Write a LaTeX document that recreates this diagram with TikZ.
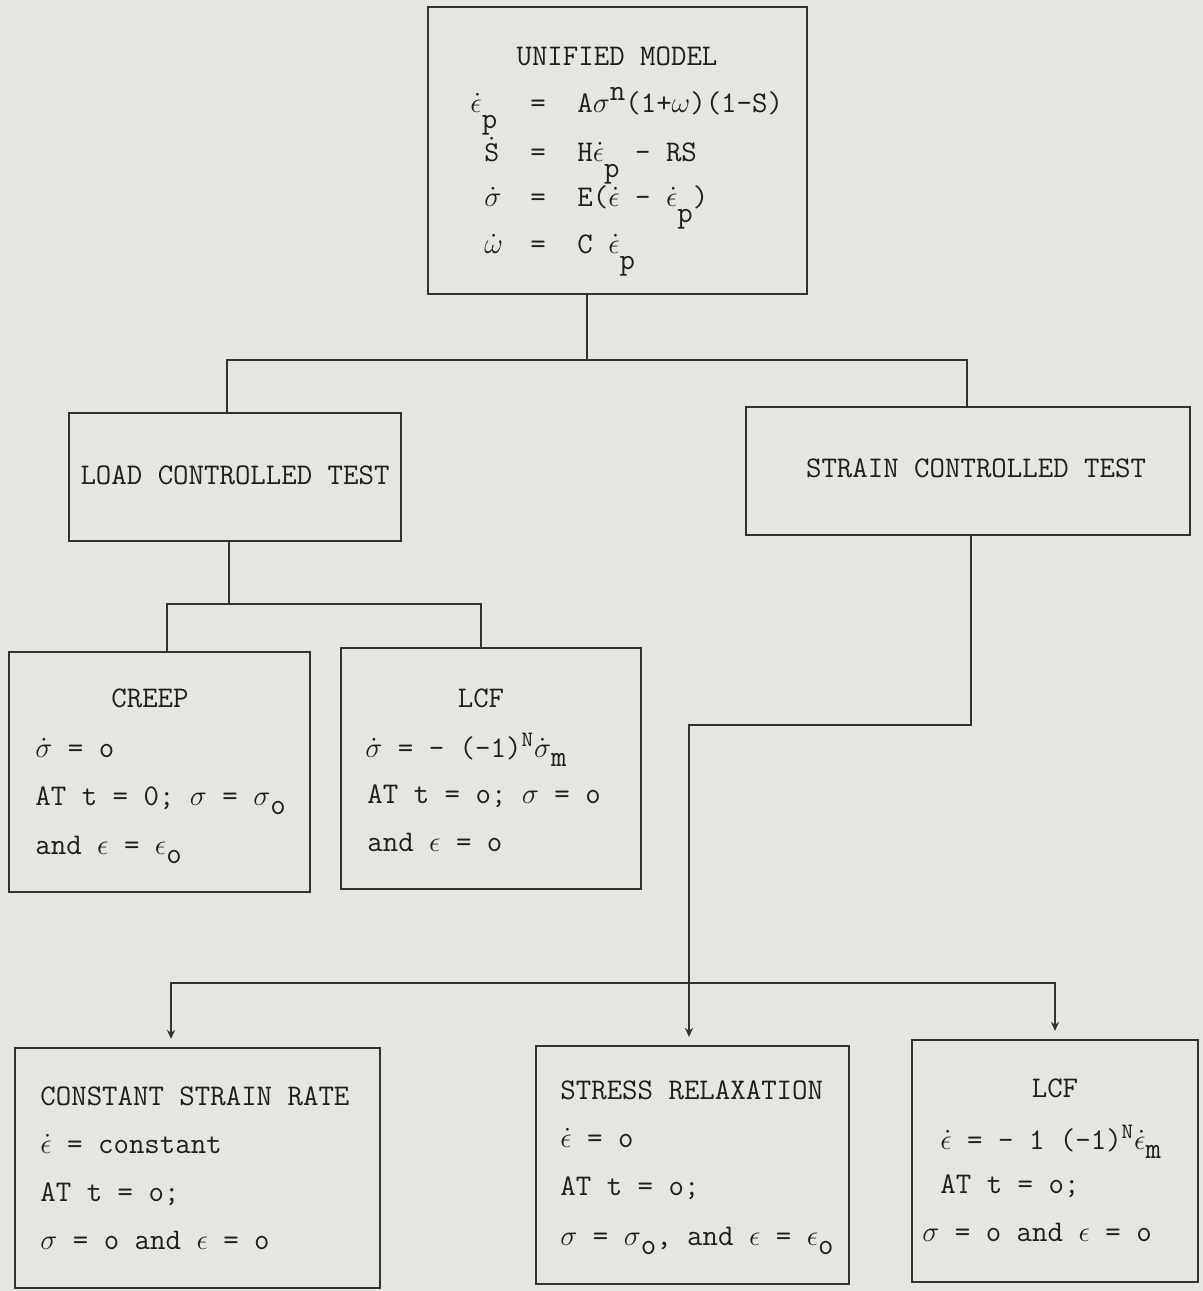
\documentclass[tikz,border=0pt]{standalone}
\usetikzlibrary{arrows.meta}
\definecolor{paper}{RGB}{229,229,226}
\definecolor{ink}{RGB}{50,50,50}
\definecolor{typeink}{RGB}{30,30,30}
% typewriter-style dropped subscripts and raised superscripts
\newcommand\dropch[1]{\raisebox{-0.55em}{#1}}
\newcommand\halfdrop[1]{\raisebox{-0.3em}{#1}}
\newcommand\liftch[1]{\raisebox{0.4em}{#1}}
\begin{document}
\begin{tikzpicture}[x=0.5pt,y=-0.5pt,
  box/.style={draw=ink, line width=1.1pt, inner sep=0pt},
  wire/.style={draw=ink, line width=1.1pt},
  tip/.style={-{Stealth[length=4.5pt,width=4pt]}, shorten >=4pt},
  txt/.style={text=typeink, font=\ttfamily\fontsize{15}{18}\selectfont, inner sep=0pt, anchor=mid west, yshift=-2.5pt},
  ctxt/.style={txt, anchor=mid}]
\fill[paper] (0,0) rectangle (1203,1291);
\useasboundingbox (0,0) rectangle (1203,1291);

% boxes
\node[box, minimum width=189.5pt, minimum height=143.5pt] (um)     at (617.5,150.5) {};
\node[box, minimum width=166pt,   minimum height=64pt]    (load)   at (235,477) {};
\node[box, minimum width=222pt,   minimum height=64pt]    (strain) at (968,471) {};
\node[box, minimum width=150.5pt, minimum height=120pt]   (creep)  at (159.5,772) {};
\node[box, minimum width=150pt,   minimum height=120.5pt] (lcfl)   at (491,768.5) {};
\node[box, minimum width=182.5pt, minimum height=120pt]   (csr)    at (197.5,1168) {};
\node[box, minimum width=156.5pt, minimum height=119pt]   (srx)    at (692.5,1165) {};
\node[box, minimum width=143pt,   minimum height=121pt]   (lcfr)   at (1055,1161) {};

% branch points
\coordinate (jt) at (587,360);
\coordinate (xl) at (227,0);
\coordinate (xr) at (967,0);
\coordinate (jl) at (229,604);
\coordinate (xc) at (167,0);
\coordinate (xf) at (481,0);
\coordinate (js) at (971,725);
\coordinate (kb) at (689,983);
\coordinate (xa) at (171,0);
\coordinate (xb) at (1055,0);

% connectors
\draw[wire] (um.south -| jt) -- (jt);
\draw[wire] (jt) -| (load.north -| xl);
\draw[wire] (jt) -| (strain.north -| xr);
\draw[wire] (load.south -| jl) -- (jl);
\draw[wire] (jl) -| (creep.north -| xc);
\draw[wire] (jl) -| (lcfl.north -| xf);
\draw[wire, tip] (strain.south -| js) -- (js) -| (srx.north -| kb);
\draw[wire, tip] (kb) -| (csr.north -| xa);
\draw[wire, tip] (kb) -| (lcfr.north -| xb);

% unified model
\node[ctxt] (umt) at (617,56) {UNIFIED MODEL};
\node[txt] (e1l) at (470,103) {$\dot\epsilon$\dropch{p}};
\node[txt] (e1q) at (530,103) {=};
\node[txt] (e1r) at (577,103) {A$\sigma$\liftch{n}(1+$\omega$)(1-S)};
\node[txt] (e2l) at (484,152) {$\dot{\mathtt{S}}$};
\node[txt] (e2q) at (530,152) {=};
\node[txt] (e2r) at (577,152) {H$\dot\epsilon$\dropch{p} - RS};
\node[txt] (e3l) at (484,197) {$\dot\sigma$};
\node[txt] (e3q) at (530,197) {=};
\node[txt] (e3r) at (577,197) {E($\dot\epsilon$ - $\dot\epsilon$\dropch{p})};
\node[txt] (e4l) at (484,244) {$\dot\omega$};
\node[txt] (e4q) at (530,244) {=};
\node[txt] (e4r) at (577,244) {C $\dot\epsilon$\dropch{p}};

% test types
\node[ctxt] (loadt)   at (235,475) {LOAD CONTROLLED TEST};
\node[ctxt] (straint) at (976,468) {STRAIN CONTROLLED TEST};

% creep
\node[ctxt] (cr0) at (150,698) {CREEP};
\node[txt]  (cr1) at (35,748) {$\dot\sigma$ = o};
\node[txt]  (cr2) at (35,796) {AT t = 0; $\sigma$ = $\sigma$\halfdrop{o}};
\node[txt]  (cr3) at (35,845) {and $\epsilon$ = $\epsilon$\halfdrop{o}};

% load-controlled LCF
\node[ctxt] (lf0) at (481,698) {LCF};
\node[txt]  (lf1) at (365,748) {$\dot\sigma$ = - (-1)$^{\mathtt{N}}\dot\sigma$\halfdrop{m}};
\node[txt]  (lf2) at (367,794) {AT t = o; $\sigma$ = o};
\node[txt]  (lf3) at (367,842) {and $\epsilon$ = o};

% constant strain rate
\node[txt] (cs0) at (40,1096) {CONSTANT STRAIN RATE};
\node[txt] (cs1) at (40,1144) {$\dot\epsilon$ = constant};
\node[txt] (cs2) at (40,1192) {AT t = o;};
\node[txt] (cs3) at (40,1240) {$\sigma$ = o and $\epsilon$ = o};

% stress relaxation
\node[txt] (sr0) at (560,1090) {STRESS RELAXATION};
\node[txt] (sr1) at (560,1138) {$\dot\epsilon$ = o};
\node[txt] (sr2) at (560,1186) {AT t = o;};
\node[txt] (sr3) at (560,1236) {$\sigma$ = $\sigma$\halfdrop{o}, and $\epsilon$ = $\epsilon$\halfdrop{o}};

% strain-controlled LCF
\node[ctxt] (lr0) at (1055,1088) {LCF};
\node[txt]  (lr1) at (940,1140) {$\dot\epsilon$ = - 1 (-1)$^{\mathtt{N}}\dot\epsilon$\halfdrop{m}};
\node[txt]  (lr2) at (940,1184) {AT t = o;};
\node[txt]  (lr3) at (922,1232) {$\sigma$ = o and $\epsilon$ = o};
\end{tikzpicture}
\end{document}
